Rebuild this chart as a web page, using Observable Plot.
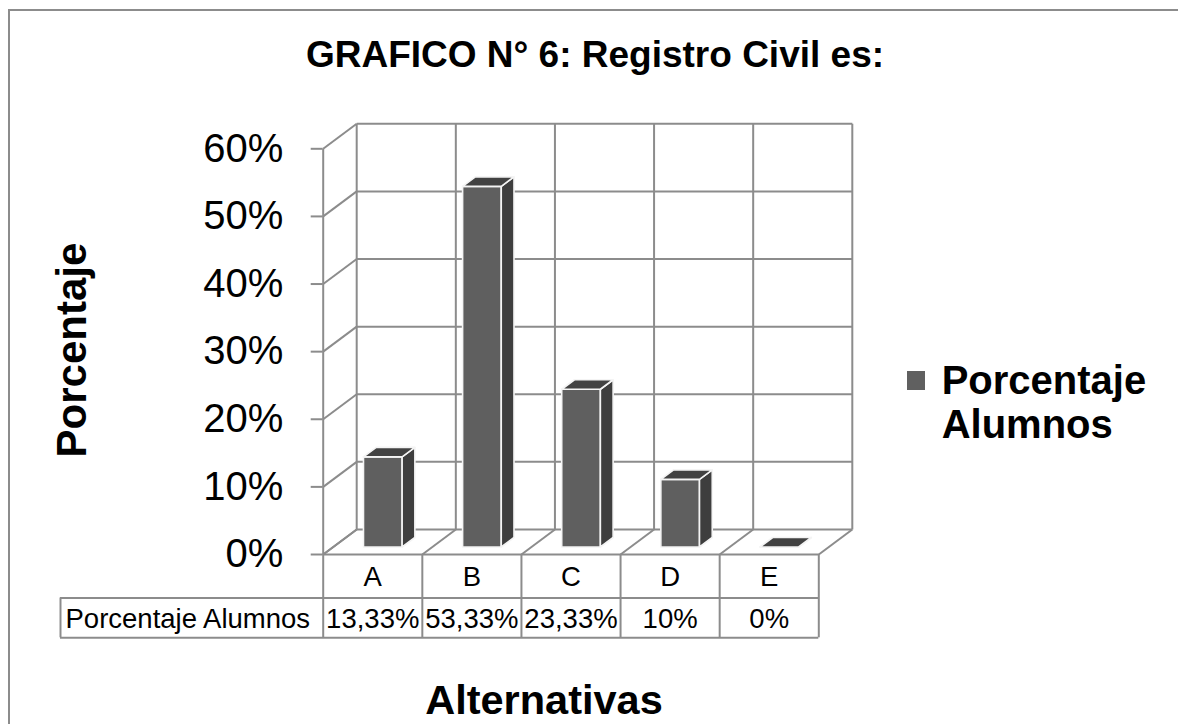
<!DOCTYPE html>
<html>
<head>
<meta charset="utf-8">
<script src="https://cdn.jsdelivr.net/npm/d3@7"></script>
<script src="https://cdn.jsdelivr.net/npm/@observablehq/plot@0.6"></script>
<style>
  html, body { margin: 0; padding: 0; background: #fff; }
  #wrap { position: relative; width: 1178px; height: 724px; overflow: hidden; font-family: "Liberation Sans", Arial, sans-serif; color: #000; }
  #chart { position: absolute; left: 0; top: 0; }
  .border { position: absolute; left: 8px; top: 9px; width: 1300px; height: 900px; border-left: 2px solid #8c8c8c; border-top: 2px solid #8c8c8c; }
  .title { position: absolute; left: 0; width: 1190px; top: 35.7px; text-align: center; font-weight: bold; font-size: 37px; line-height: 37px; white-space: nowrap; }
  .ytitle { position: absolute; width: 300px; left: -77.6px; top: 329px; text-align: center; font-weight: bold; font-size: 42px; line-height: 42px; transform: rotate(-90deg); transform-origin: 50% 50%; white-space: nowrap; }
  .xtitle { position: absolute; left: 344px; width: 400px; top: 679px; text-align: center; font-weight: bold; font-size: 41.5px; line-height: 41.5px; white-space: nowrap; }
  .legend { position: absolute; left: 907px; top: 357.5px; font-weight: bold; font-size: 40px; line-height: 44.5px; }
  .legend .sw { position: absolute; left: 0; top: 13.5px; width: 18px; height: 18.5px; background: #606060; }
  .legend .lt { position: absolute; left: 34.7px; top: 0; white-space: nowrap; }
</style>
</head>
<body>
<div id="wrap">
  <div class="border"></div>
  <div id="chart"></div>
  <div class="title">GRAFICO N° 6: Registro Civil es:</div>
  <div class="ytitle">Porcentaje</div>
  <div class="legend"><div class="sw"></div><div class="lt">Porcentaje<br>Alumnos</div></div>
  <div class="xtitle">Alternativas</div>
</div>
<script>
// ---- data ----
const categories = ["A", "B", "C", "D", "E"];
const values = [0.1333, 0.5333, 0.2333, 0.10, 0];
const yTicks = [0, 0.1, 0.2, 0.3, 0.4, 0.5, 0.6];
const seriesName = "Porcentaje Alumnos";

// ---- style / projection constants ----
const W = 1178, H = 724;
const M = {left: 322.7, right: 359.7, top: 148.3, bottom: 170};
const DEPTH_X = 0.338;   // back-plane shift, in category units
const DEPTH_Y = 0.037;   // back-plane shift, in value units
const T0 = 0.3, T1 = 0.68; // bar depth span
const BAR_W = 0.39;
const GRID = "#8c8c8c";
const ROW1 = 43.5, ROW2 = 83.3, HEAD_L = -(M.left - 60);
const TABLE_FONT = 27.5;

const px = d => d.x + d.t * DEPTH_X;
const py = d => d.y + d.t * DEPTH_Y;
const nCat = categories.length;
const bounds = d3.range(nCat + 1);

// grid segments (front t=0 to back t=1)
const segs = [];
yTicks.forEach(v => segs.push({x1: 0, y1: v, t1: 0, x2: 0, y2: v, t2: 1}));
segs.push({x1: 0, y1: 0, t1: 0, x2: 0, y2: d3.max(yTicks), t2: 0});
yTicks.forEach(v => segs.push({x1: 0, y1: v, t1: 1, x2: nCat, y2: v, t2: 1}));
bounds.forEach(b => segs.push({x1: b, y1: 0, t1: 1, x2: b, y2: d3.max(yTicks), t2: 1}));
bounds.forEach(b => segs.push({x1: b, y1: 0, t1: 0, x2: b, y2: 0, t2: 1}));
segs.push({x1: 0, y1: 0, t1: 0, x2: nCat, y2: 0, t2: 0});

const bars = categories.map((c, i) => ({c, i, v: values[i]}));
const xl = b => b.i + 0.5 - BAR_W / 2, xr = b => b.i + 0.5 + BAR_W / 2;
function poly(id, pts) { return pts.concat([pts[0]]).map(([x, y, t]) => ({id, x, y, t})); }
const fronts = [], sides = [], tops = [], shadows = [];
bars.forEach(b => {
  const L = xl(b), R = xr(b), v = b.v;
  fronts.push(...poly("f" + b.i, [[L, 0, T0], [R, 0, T0], [R, v, T0], [L, v, T0]]));
  sides.push(...poly("s" + b.i, [[R, 0, T0], [R, 0, T1], [R, v, T1], [R, v, T0]]));
  tops.push(...poly("t" + b.i, [[L, v, T0], [R, v, T0], [R, v, T1], [L, v, T1]]));
  shadows.push(...poly("h" + b.i, [[L - 0.07, 0, T0 - 0.18], [R + 0.12, 0, T0 - 0.18], [R + 0.12, 0, T1 + 0.1], [L - 0.07, 0, T1 + 0.1]]));
});

const fmtVal = v => String(+(v * 100).toFixed(2)).replace(".", ",") + "%";

const plot = Plot.plot({
  width: W, height: H,
  marginLeft: M.left, marginRight: M.right, marginTop: M.top, marginBottom: M.bottom,
  x: {type: "linear", domain: [0, nCat], axis: null},
  y: {type: "linear", domain: [0, d3.max(yTicks)], axis: null},
  style: {fontFamily: "'Liberation Sans', Arial, sans-serif", color: "#000", background: "transparent"},
  marks: [
    Plot.link(segs, {
      x1: d => d.x1 + d.t1 * DEPTH_X, y1: d => d.y1 + d.t1 * DEPTH_Y,
      x2: d => d.x2 + d.t2 * DEPTH_X, y2: d => d.y2 + d.t2 * DEPTH_Y,
      stroke: GRID, strokeWidth: 2
    }),
    Plot.axisY({ticks: yTicks, tickFormat: d3.format(".0%"), tickSize: 12, tickPadding: 28,
      fontSize: 40, stroke: GRID, strokeWidth: 2, fill: "#000", label: null}),
    Plot.line(shadows, {x: px, y: py, z: "id", fill: "#9a9a9a", stroke: null, ariaLabel: "shadow"}),
    Plot.line(fronts, {x: px, y: py, z: "id", fill: "#5f5f5f", stroke: "#f4f4f4", strokeWidth: 1.6}),
    Plot.line(sides, {x: px, y: py, z: "id", fill: "#3e3e3e", stroke: "#f4f4f4", strokeWidth: 1.6}),
    Plot.line(tops, {x: px, y: py, z: "id", fill: "#424242", stroke: "#f4f4f4", strokeWidth: 1.6}),
    // data table frame
    Plot.ruleY([0], {x1: 0, x2: nCat, dy: ROW1, insetLeft: HEAD_L, stroke: GRID, strokeWidth: 2}),
    Plot.ruleY([0], {x1: 0, x2: nCat, dy: ROW2, insetLeft: HEAD_L, stroke: GRID, strokeWidth: 2}),
    Plot.ruleX(bounds, {x: d => d, y1: 0, y2: 0, insetBottom: -ROW2, stroke: GRID, strokeWidth: 2}),
    Plot.ruleX([0], {x: d => d, y1: 0, y2: 0, dx: HEAD_L, insetTop: ROW1, insetBottom: -ROW2, stroke: GRID, strokeWidth: 2}),
    // table texts
    Plot.text(bars, {x: d => d.i + 0.5, y: 0, text: "c", dy: ROW1 / 2 + 1, fontSize: TABLE_FONT, fill: "#000"}),
    Plot.text(bars, {x: d => d.i + 0.5, y: 0, text: d => fmtVal(d.v), dy: (ROW1 + ROW2) / 2 + 1, fontSize: TABLE_FONT, fill: "#000"}),
    Plot.text([seriesName], {x: 0, y: 0, text: d => d, textAnchor: "start", dx: HEAD_L + 5, dy: (ROW1 + ROW2) / 2 + 1, fontSize: TABLE_FONT, fill: "#000"})
  ]
});

// soft blur for bar shadows
const svgNS = "http://www.w3.org/2000/svg";
const defs = document.createElementNS(svgNS, "defs");
defs.innerHTML = '<filter id="soft" x="-50%" y="-50%" width="200%" height="200%"><feGaussianBlur stdDeviation="3"/></filter>';
plot.insertBefore(defs, plot.firstChild);
const sh = plot.querySelector('g[aria-label="shadow"]');
if (sh) { sh.setAttribute("filter", "url(#soft)"); sh.setAttribute("opacity", "0.55"); }

document.getElementById("chart").appendChild(plot);
</script>
</body>
</html>
